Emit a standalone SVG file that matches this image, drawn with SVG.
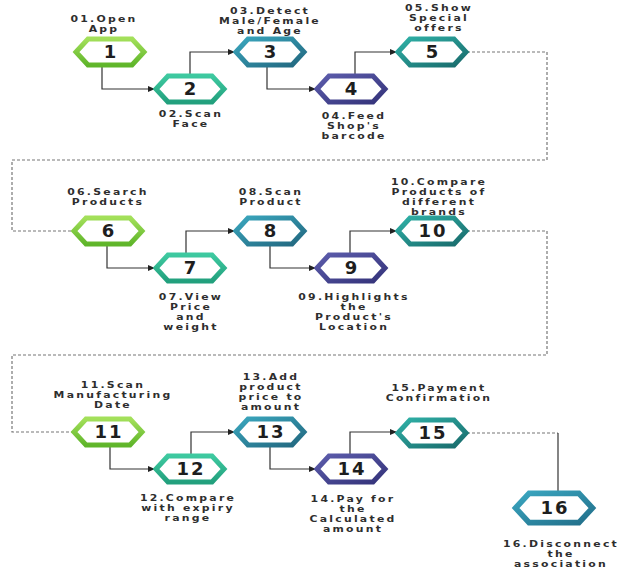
<svg xmlns="http://www.w3.org/2000/svg" width="619" height="571" viewBox="0 0 619 571">
<defs>
<linearGradient id="gA" x1="0" y1="0" x2="0" y2="1"><stop offset="0" stop-color="#a3e05a"/><stop offset="1" stop-color="#5fb52a"/></linearGradient>
<linearGradient id="gB" x1="0" y1="0" x2="0" y2="1"><stop offset="0" stop-color="#3ec9a0"/><stop offset="1" stop-color="#22a07d"/></linearGradient>
<linearGradient id="gC" x1="0" y1="0" x2="1" y2="1"><stop offset="0" stop-color="#3aa6bd"/><stop offset="1" stop-color="#22677f"/></linearGradient>
<linearGradient id="gD" x1="0" y1="0" x2="1" y2="1"><stop offset="0" stop-color="#5c5cab"/><stop offset="1" stop-color="#34337a"/></linearGradient>
<linearGradient id="gE" x1="0" y1="0" x2="1" y2="1"><stop offset="0" stop-color="#2fb0a6"/><stop offset="1" stop-color="#196b6c"/></linearGradient>
<linearGradient id="gF" x1="0" y1="0" x2="1" y2="1"><stop offset="0" stop-color="#3aa6c0"/><stop offset="1" stop-color="#226f8a"/></linearGradient>
<polygon id="hex" points="-34,0 -22,-13 22,-13 34,0 22,13 -22,13"/>
<marker id="arr" viewBox="0 0 8 8" refX="7" refY="4" markerWidth="7" markerHeight="7" markerUnits="userSpaceOnUse" orient="auto"><path d="M0,0.5 L8,4 L0,7.5 Z" fill="#222"/></marker>
</defs>
<style>
.h{fill:#fff;stroke-width:5;stroke-linejoin:miter}
.a{stroke:url(#gA)}.b{stroke:url(#gB)}.c{stroke:url(#gC)}.d{stroke:url(#gD)}.e{stroke:url(#gE)}.f{stroke:url(#gF)}
.n{font-family:"DejaVu Sans",sans-serif;font-weight:bold;font-size:18px;fill:#1e1e1e;text-anchor:middle;letter-spacing:2px}
.t text{font-family:"DejaVu Sans",sans-serif;font-weight:bold;font-size:8.7px;fill:#2e2e2e;text-anchor:middle;letter-spacing:1.8px}
.s{fill:none;stroke:#333;stroke-width:1.2}
.dash{fill:none;stroke:#777;stroke-width:1.2;stroke-dasharray:3 2}
</style>
<rect width="619" height="571" fill="#fff"/>
<g id="connectors">
<path class="s" d="M102,66 V89 H154" marker-end="url(#arr)"/>
<path class="s" d="M190,76 V52 H234" marker-end="url(#arr)"/>
<path class="s" d="M267,66 V89 H315" marker-end="url(#arr)"/>
<path class="s" d="M355,76 V52 H396" marker-end="url(#arr)"/>
<path class="dash" d="M467,52 H547 V160 H12 V231 H74"/>
<path class="s" d="M107,245 V268 H154" marker-end="url(#arr)"/>
<path class="s" d="M186,255 V231 H234" marker-end="url(#arr)"/>
<path class="s" d="M270,245 V268 H315" marker-end="url(#arr)"/>
<path class="s" d="M350,255 V231 H396" marker-end="url(#arr)"/>
<path class="dash" d="M467,231 H547 V355 H12 V432 H74"/>
<path class="s" d="M110,446 V469 H154" marker-end="url(#arr)"/>
<path class="s" d="M191,456 V432 H234" marker-end="url(#arr)"/>
<path class="s" d="M270,446 V469 H315" marker-end="url(#arr)"/>
<path class="s" d="M350,456 V432 H396" marker-end="url(#arr)"/>
<path class="dash" d="M467,433 H558"/>
<path class="s" d="M558,433 V494"/>
</g>
<g id="n1"><use href="#hex" class="h a" x="110" y="52"/><text class="n" x="111" y="58">1</text><g class="t" transform="translate(104,0) scale(1.25,1)"><text x="0" y="22">01.Open</text><text x="0" y="32">App</text></g></g>
<g id="n2"><use href="#hex" class="h b" x="190" y="89"/><text class="n" x="191" y="95">2</text><g class="t" transform="translate(191,0) scale(1.25,1)"><text x="0" y="117">02.Scan</text><text x="0" y="127">Face</text></g></g>
<g id="n3"><use href="#hex" class="h c" x="270" y="52"/><text class="n" x="271" y="58">3</text><g class="t" transform="translate(270,0) scale(1.25,1)"><text x="0" y="14">03.Detect</text><text x="0" y="24">Male/Female</text><text x="0" y="34">and Age</text></g></g>
<g id="n4"><use href="#hex" class="h d" x="351" y="89"/><text class="n" x="352" y="95">4</text><g class="t" transform="translate(354,0) scale(1.25,1)"><text x="0" y="119">04.Feed</text><text x="0" y="129">Shop's</text><text x="0" y="139">barcode</text></g></g>
<g id="n5"><use href="#hex" class="h e" x="432" y="52"/><text class="n" x="433" y="58">5</text><g class="t" transform="translate(439,0) scale(1.25,1)"><text x="0" y="11">05.Show</text><text x="0" y="21">Special</text><text x="0" y="31">offers</text></g></g>
<g id="n6"><use href="#hex" class="h a" x="108" y="231"/><text class="n" x="109" y="237">6</text><g class="t" transform="translate(108,0) scale(1.25,1)"><text x="0" y="195">06.Search</text><text x="0" y="205">Products</text></g></g>
<g id="n7"><use href="#hex" class="h b" x="190" y="268"/><text class="n" x="191" y="274">7</text><g class="t" transform="translate(191,0) scale(1.25,1)"><text x="0" y="300">07.View</text><text x="0" y="310">Price</text><text x="0" y="320">and</text><text x="0" y="330">weight</text></g></g>
<g id="n8"><use href="#hex" class="h c" x="270" y="231"/><text class="n" x="271" y="237">8</text><g class="t" transform="translate(271,0) scale(1.25,1)"><text x="0" y="195">08.Scan</text><text x="0" y="205">Product</text></g></g>
<g id="n9"><use href="#hex" class="h d" x="351" y="268"/><text class="n" x="352" y="274">9</text><g class="t" transform="translate(354,0) scale(1.25,1)"><text x="0" y="300">09.Highlights</text><text x="0" y="310">the</text><text x="0" y="320">Product's</text><text x="0" y="330">Location</text></g></g>
<g id="n10"><use href="#hex" class="h e" x="432" y="231"/><text class="n" x="433" y="237">10</text><g class="t" transform="translate(439,0) scale(1.25,1)"><text x="0" y="185">10.Compare</text><text x="0" y="195">Products of</text><text x="0" y="205">different</text><text x="0" y="215">brands</text></g></g>
<g id="n11"><use href="#hex" class="h a" x="108" y="432"/><text class="n" x="109" y="438">11</text><g class="t" transform="translate(113,0) scale(1.25,1)"><text x="0" y="388">11.Scan</text><text x="0" y="398">Manufacturing</text><text x="0" y="408">Date</text></g></g>
<g id="n12"><use href="#hex" class="h b" x="190" y="469"/><text class="n" x="191" y="475">12</text><g class="t" transform="translate(188,0) scale(1.25,1)"><text x="0" y="501">12.Compare</text><text x="0" y="511">with expiry</text><text x="0" y="521">range</text></g></g>
<g id="n13"><use href="#hex" class="h c" x="270" y="432"/><text class="n" x="271" y="438">13</text><g class="t" transform="translate(271,0) scale(1.25,1)"><text x="0" y="380">13.Add</text><text x="0" y="390">product</text><text x="0" y="400">price to</text><text x="0" y="410">amount</text></g></g>
<g id="n14"><use href="#hex" class="h d" x="351" y="469"/><text class="n" x="352" y="475">14</text><g class="t" transform="translate(353,0) scale(1.25,1)"><text x="0" y="502">14.Pay for</text><text x="0" y="512">the</text><text x="0" y="522">Calculated</text><text x="0" y="532">amount</text></g></g>
<g id="n15"><use href="#hex" class="h e" x="432" y="433"/><text class="n" x="433" y="439">15</text><g class="t" transform="translate(439,0) scale(1.25,1)"><text x="0" y="391">15.Payment</text><text x="0" y="401">Confirmation</text></g></g>
<g id="n16"><use href="#hex" class="h f" transform="translate(554,508) scale(1.13)"/><text class="n" x="555" y="514">16</text><g class="t" transform="translate(561,0) scale(1.25,1)"><text x="0" y="547">16.Disconnect</text><text x="0" y="557">the</text><text x="0" y="567">association</text></g></g>
</svg>
